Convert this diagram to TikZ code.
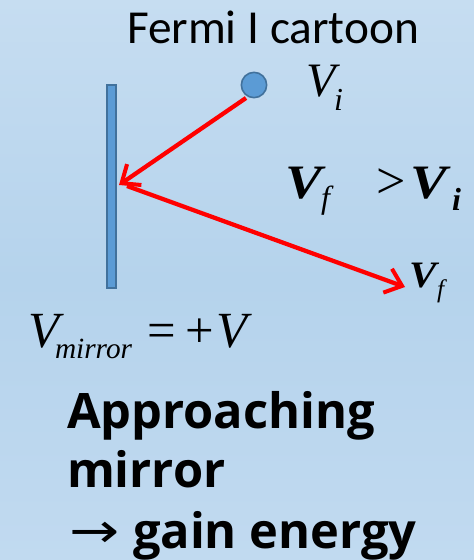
\documentclass[tikz,border=0pt]{standalone}
\usepackage{fontspec}
\setmainfont{Liberation Serif}
\newfontfamily\titlefont{Carlito}
\newfontfamily\boldsans{Open Sans}
\newfontfamily\arrowfont{DejaVu Sans}
\usetikzlibrary{arrows.meta}
\definecolor{bgtop}{RGB}{198,221,241}
\definecolor{bgmid}{RGB}{181,211,236}
\definecolor{bgbot}{RGB}{193,218,240}
\definecolor{ballfill}{RGB}{91,155,213}
\definecolor{balledge}{RGB}{65,113,156}
\definecolor{arrowred}{RGB}{255,0,0}
\tikzset{
  px/.style={x=0.75pt,y=-0.75pt},
  ray/.style={draw=arrowred,line width=3.2pt,-{Straight Barb[length=11.5pt,width=19pt,line width=3pt]}},
  lbl/.style={inner sep=0pt,outer sep=0pt,anchor=base west},
  bigbf/.style={lbl,font=\fontsize{36}{40}\selectfont\bfseries\itshape},
  subit/.style={lbl,font=\fontsize{24}{28}\selectfont\itshape},
  boldtext/.style={lbl,font=\boldsans\bfseries\fontsize{36.6}{44}\selectfont},
}
\begin{document}
\begin{tikzpicture}[px]
\useasboundingbox (0,0) rectangle (474,560);
\fill[top color=bgtop,bottom color=bgmid] (0,0) rectangle (474,280);
\fill[top color=bgmid,bottom color=bgbot] (0,280) rectangle (474,560);
% title
\node[lbl] (title) at (127,44) {\titlefont\fontsize{35.5}{42}\selectfont Fermi I cartoon};
% mirror and particle
\node[draw=balledge,fill=ballfill,line width=1.2pt,minimum width=6.5pt,minimum height=152pt,inner sep=0pt] (mirror) at (111.5,186.5) {};
\node[circle,draw=balledge,fill=ballfill,line width=1.2pt,minimum size=19pt,inner sep=0pt] (ball) at (254,85) {};
\coordinate (start1) at (246,98);
\coordinate (hit) at (119,185);
\coordinate (start2) at (127,186);
\coordinate (out) at (405,287);
\draw[ray] (start1) -- (hit);
\draw[ray] (start2) -- (out);
% V_i
\node[lbl,font=\fontsize{36}{40}\selectfont\itshape] (vi) at (306,97) {V};
\node[subit] (visub) at (334,110) {i};
% V_f > V_i
\node[bigbf] (cmpv1) at (285,198) {\scalebox{1.15}[1]{V}};
\node[subit] (cmpf) at (321,208) {f};
\node[lbl,font=\fontsize{39}{40}\selectfont] (gt) at (376,198) {>};
\node[bigbf] (cmpv2) at (410,198) {\scalebox{1.15}[1]{V}};
\node[subit,font=\fontsize{24}{28}\selectfont\bfseries\itshape] (cmpi) at (452,210) {i};
% V_f
\node[lbl,font=\fontsize{28}{32}\selectfont\bfseries\itshape] (vf) at (409,287) {\scalebox{1.1}[1]{V}};
\node[subit,font=\fontsize{19}{22}\selectfont\itshape] (vfsub) at (437,297) {f};
% V_mirror = +V
\node[lbl,font=\fontsize{38}{44}\selectfont\itshape] (vm) at (28,347) {V};
\node[subit,font=\fontsize{22}{26}\selectfont\itshape] (vmsub) at (55,358) {mirror};
\node[lbl,font=\fontsize{38}{44}\selectfont] (vmeq) at (147,347) {=};
\node[lbl,font=\fontsize{38}{44}\selectfont] (vmplus) at (185,347) {+};
\node[lbl,font=\fontsize{38}{44}\selectfont\itshape] (vmv) at (216,347) {V};
% bold text
\node[boldtext] (t1) at (67,428) {Approaching};
\node[boldtext] (t2) at (67,487) {mirror};
\node[lbl] (t3arrow) at (69,547) {\arrowfont\fontsize{36}{44}\selectfont\scalebox{1.25}[1]{→}};
\node[boldtext] (t3) at (133,548) {gain energy};
\end{tikzpicture}
\end{document}
